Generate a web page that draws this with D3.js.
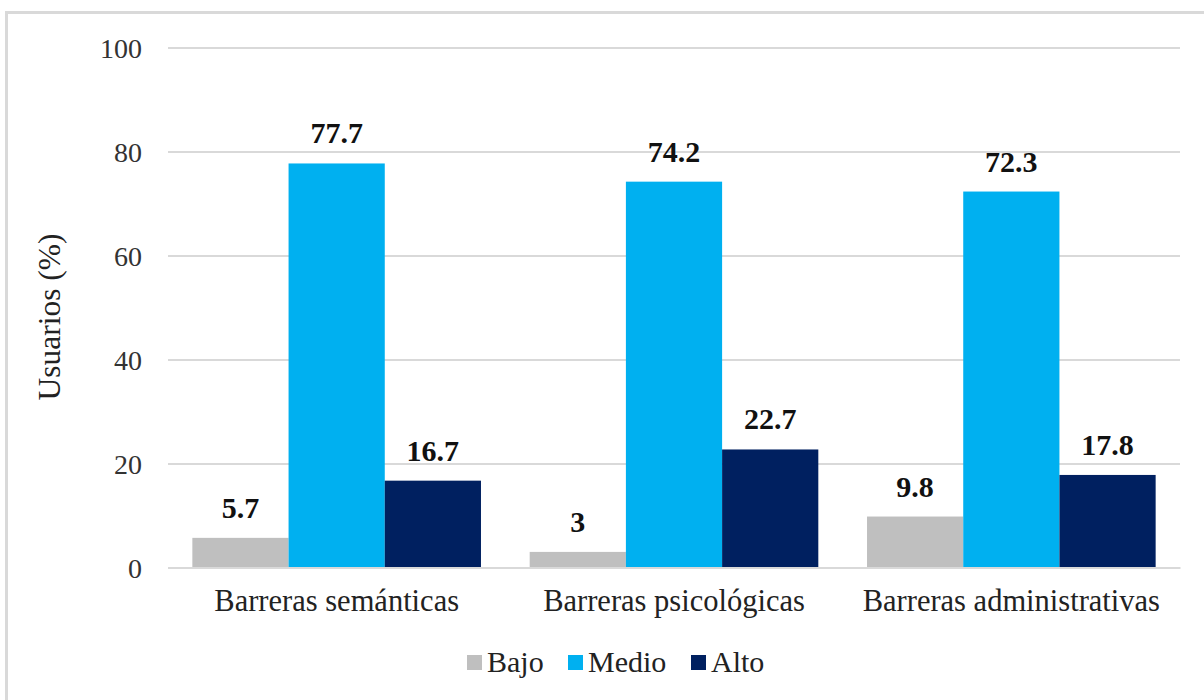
<!DOCTYPE html>
<html>
<head>
<meta charset="utf-8">
<script src="https://cdn.jsdelivr.net/npm/d3@7/dist/d3.min.js"></script>
<style>
html,body{margin:0;padding:0;background:#fff;}
svg{display:block;}
</style>
</head>
<body>
<svg id="chart" width="1204" height="700"></svg>
<script>
const categories = ["Barreras semánticas", "Barreras psicológicas", "Barreras administrativas"];
const seriesNames = ["Bajo", "Medio", "Alto"];
const bajo = [5.7, 3, 9.8];
const medio = [77.7, 74.2, 72.3];
const alto = [16.7, 22.7, 17.8];
const yTicks = [0, 20, 40, 60, 80, 100];
const colors = ["#bfbfbf", "#00b0f0", "#002060"];
const yTitle = "Usuarios (%)";

(function(){
const FONT = "'Liberation Serif', 'Times New Roman', serif";
const series = [bajo, medio, alto];
const svg = d3.select("#chart").attr("font-family", FONT);

// frame
svg.append("rect").attr("x", 6.5).attr("y", 12.5).attr("width", 1300).attr("height", 800)
  .attr("fill", "none").attr("stroke", "#d9d9d9").attr("stroke-width", 3);

const pl = 168, pr = 1180, pt = 47.5, pb = 567.5;
const p = 0.1444;
const x0 = d3.scaleBand().domain(categories).range([pl, pr]).paddingInner(p).paddingOuter(p/2);
const x1 = d3.scaleBand().domain(seriesNames).range([0, x0.bandwidth()]).padding(0);
const y = d3.scaleLinear().domain([0, 100]).range([pb, pt]);

// gridlines
const yAxis = d3.axisLeft(y).tickValues(yTicks).tickSize(-(pr - pl)).tickPadding(26).tickFormat(d3.format("d"));
const gy = svg.append("g").attr("transform", `translate(${pl},0)`).call(yAxis)
  .attr("font-family", FONT);
gy.select(".domain").remove();
gy.selectAll(".tick line").attr("stroke", "#d9d9d9").attr("stroke-width", 2);
gy.selectAll(".tick text").attr("font-size", 28).attr("fill", "#333").attr("dy", "0.34em")
  .attr("font-family", FONT);

// bars
const groups = svg.append("g").selectAll("g").data(categories).join("g")
  .attr("transform", d => `translate(${x0(d)},0)`);
groups.each(function(cat, ci) {
  const g = d3.select(this);
  seriesNames.forEach((s, si) => {
    const v = series[si][ci];
    g.append("rect").attr("x", x1(s)).attr("y", y(v)).attr("width", x1.bandwidth())
      .attr("height", y(0) - y(v)).attr("fill", colors[si]);
    g.append("text").attr("x", x1(s) + x1.bandwidth()/2).attr("y", y(v) - 20)
      .attr("text-anchor", "middle").attr("font-size", 30).attr("font-weight", "bold")
      .attr("font-family", FONT).attr("fill", "#111").text(v);
  });
});

// x axis line
const xAxis = d3.axisBottom(x0).tickSize(0).tickPadding(22);
const gx = svg.append("g").attr("transform", `translate(0,${pb})`).call(xAxis)
  .attr("font-family", FONT);
gx.select(".domain").attr("stroke", "#d9d9d9").attr("stroke-width", 2);
gx.selectAll(".tick text").attr("font-size", 30.5).attr("fill", "#222")
  .attr("font-family", FONT);

// y title
svg.append("text").attr("transform", `translate(60,317) rotate(-90)`)
  .attr("text-anchor", "middle").attr("font-size", 31.5).attr("fill", "#222")
  .attr("font-family", FONT).text(yTitle);

// legend
const legendX = [467, 568, 691];
const lg = svg.append("g");
seriesNames.forEach((s, i) => {
  lg.append("rect").attr("x", legendX[i]).attr("y", 655).attr("width", 15).attr("height", 15).attr("fill", colors[i]);
  lg.append("text").attr("x", legendX[i] + 20).attr("y", 672).attr("font-size", 30).attr("fill", "#222")
    .attr("font-family", FONT).text(s);
});
})();
</script>
</body>
</html>
